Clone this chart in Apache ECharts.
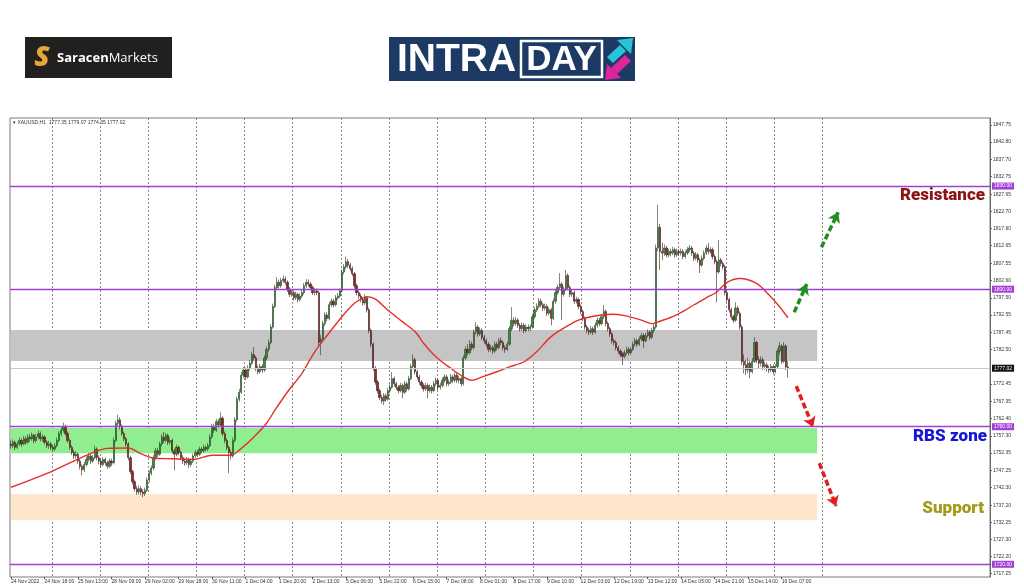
<!DOCTYPE html>
<html>
<head>
<meta charset="utf-8">
<script src="https://cdn.jsdelivr.net/npm/echarts@6/dist/echarts.min.js"></script>
<style>html,body{margin:0;padding:0;background:#fff;}#c{width:1024px;height:587px;}</style>
</head>
<body>
<div id="c"></div>
<script>
// ---- DATA ----
const timeLabels = ["24 Nov 2022","24 Nov 18:00","25 Nov 13:00","28 Nov 09:00","29 Nov 02:00","29 Nov 18:00","30 Nov 11:00","1 Dec 04:00","1 Dec 20:00","2 Dec 13:00","5 Dec 06:00","5 Dec 22:00","6 Dec 15:00","7 Dec 08:00","8 Dec 01:00","8 Dec 17:00","9 Dec 10:00","12 Dec 03:00","12 Dec 19:00","13 Dec 12:00","14 Dec 05:00","14 Dec 21:00","15 Dec 14:00","16 Dec 07:00"];
const priceTicks = [1847.75,1842.80,1837.70,1832.75,1827.65,1822.70,1817.60,1812.65,1807.55,1802.60,1797.50,1792.55,1787.45,1782.50,1772.45,1767.35,1762.40,1757.30,1752.35,1747.25,1742.30,1737.20,1732.25,1727.30,1722.20,1717.25];
// [open, close, low, high] per H1 bar
const candles = [
[1755.0,1754.5,1753.6,1756.0],[1754.5,1755.5,1753.8,1756.3],[1755.5,1754.0,1753.2,1756.0],[1754.0,1755.0,1753.5,1755.8],[1755.0,1756.0,1754.4,1757.0],
[1756.0,1755.0,1754.2,1756.6],[1755.0,1756.5,1754.6,1757.3],[1756.5,1755.5,1754.8,1757.2],[1755.5,1757.0,1755.0,1757.8],[1757.0,1756.5,1755.6,1757.9],
[1756.5,1757.5,1755.9,1758.3],[1757.5,1756.0,1755.2,1758.0],[1756.0,1757.0,1755.4,1757.9],[1757.0,1758.0,1756.3,1758.9],[1758.0,1756.5,1755.8,1758.6],
[1756.5,1757.0,1755.7,1757.8],[1757.0,1755.5,1754.8,1757.5],[1755.5,1754.5,1753.8,1756.1],[1754.5,1755.0,1753.6,1755.9],[1755.0,1754.0,1753.2,1755.6],
[1754.0,1753.5,1752.7,1754.8],[1753.5,1754.5,1752.9,1755.2],[1754.5,1756.0,1754.0,1756.8],[1756.0,1758.0,1755.5,1758.7],[1758.0,1759.0,1757.2,1760.0],
[1759.0,1760.0,1758.3,1761.2],[1760.0,1758.0,1757.4,1760.6],[1758.0,1756.0,1755.3,1758.6],[1756.0,1754.0,1753.3,1756.5],[1754.0,1752.5,1751.8,1754.6],
[1752.5,1751.5,1750.6,1753.3],[1751.5,1752.0,1750.7,1752.9],[1752.0,1750.0,1749.2,1752.6],[1750.0,1748.5,1747.6,1750.6],[1748.5,1747.5,1745.9,1749.0],
[1747.5,1749.0,1746.8,1749.8],[1749.0,1750.5,1748.4,1751.3],[1750.5,1751.5,1749.8,1752.3],[1751.5,1750.0,1749.2,1752.0],[1750.0,1751.0,1749.4,1751.8],
[1751.0,1753.5,1750.5,1754.5],[1753.5,1751.0,1750.2,1754.0],[1751.0,1750.0,1749.1,1751.7],[1750.0,1749.0,1748.2,1750.6],[1749.0,1750.5,1748.5,1751.2],
[1750.5,1749.5,1748.8,1751.0],[1749.5,1748.5,1747.8,1750.1],[1748.5,1750.0,1748.0,1750.8],[1750.0,1749.5,1748.6,1750.7],[1749.5,1756.0,1749.0,1756.8],
[1756.0,1761.0,1755.5,1761.8],[1761.0,1762.0,1760.2,1763.5],[1762.0,1760.0,1759.2,1762.8],[1760.0,1758.0,1757.3,1760.7],[1758.0,1756.5,1755.8,1758.6],
[1756.5,1755.0,1754.2,1757.0],[1755.0,1751.0,1750.2,1755.5],[1751.0,1747.0,1746.2,1751.6],[1747.0,1744.0,1743.2,1747.5],[1744.0,1742.0,1741.2,1744.6],
[1742.0,1741.0,1740.2,1742.8],[1741.0,1742.0,1740.3,1742.9],[1742.0,1741.0,1740.1,1742.7],[1741.0,1740.5,1739.5,1741.8],[1740.5,1741.5,1739.8,1742.3],
[1741.5,1744.5,1741.0,1745.2],[1744.5,1746.5,1743.8,1747.3],[1746.5,1748.0,1745.8,1748.8],[1748.0,1751.0,1747.4,1751.7],[1751.0,1753.0,1750.3,1753.8],
[1753.0,1752.0,1751.2,1753.9],[1752.0,1755.0,1751.5,1755.7],[1755.0,1757.0,1754.3,1757.8],[1757.0,1756.0,1755.2,1758.5],[1756.0,1757.5,1755.4,1758.2],
[1757.5,1755.5,1754.7,1758.0],[1755.5,1756.0,1754.8,1756.9],[1756.0,1753.0,1752.2,1756.6],[1753.0,1752.0,1747.3,1753.6],[1752.0,1754.0,1751.4,1754.8],
[1754.0,1752.5,1751.7,1754.5],[1752.5,1751.0,1750.3,1753.1],[1751.0,1750.0,1749.2,1751.7],[1750.0,1749.5,1748.7,1750.8],[1749.5,1750.5,1748.9,1751.2],
[1750.5,1749.0,1748.0,1751.0],[1749.0,1750.0,1748.4,1750.8],[1750.0,1751.5,1749.4,1752.2],[1751.5,1752.5,1750.9,1753.3],[1752.5,1752.0,1751.2,1753.2],
[1752.0,1753.5,1751.5,1754.2],[1753.5,1753.0,1752.3,1754.1],[1753.0,1754.0,1752.4,1754.8],[1754.0,1753.5,1752.8,1754.6],[1753.5,1754.5,1752.9,1755.3],
[1754.5,1757.0,1754.0,1757.8],[1757.0,1760.0,1756.5,1760.8],[1760.0,1759.0,1758.2,1760.9],[1759.0,1761.5,1758.5,1762.3],[1761.5,1760.5,1759.7,1762.2],
[1760.5,1762.5,1760.0,1764.2],[1762.5,1758.0,1757.2,1763.0],[1758.0,1756.0,1755.2,1758.6],[1756.0,1754.0,1753.2,1756.6],[1754.0,1752.5,1746.5,1754.5],
[1752.5,1751.5,1750.5,1753.3],[1751.5,1756.0,1751.0,1756.8],[1756.0,1762.0,1755.5,1762.8],[1762.0,1768.0,1761.5,1768.8],[1768.0,1770.0,1767.3,1771.0],
[1770.0,1775.0,1769.5,1775.9],[1775.0,1776.5,1774.2,1777.4],[1776.5,1774.5,1773.6,1777.2],[1774.5,1777.0,1774.0,1777.9],[1777.0,1778.5,1776.3,1779.4],
[1778.5,1781.0,1777.9,1781.8],[1781.0,1780.0,1779.2,1783.1],[1780.0,1777.0,1776.2,1780.6],[1777.0,1776.0,1775.2,1777.8],[1776.0,1777.5,1775.4,1778.3],
[1777.5,1776.5,1775.6,1778.2],[1776.5,1780.0,1776.0,1780.8],[1780.0,1782.5,1779.3,1783.3],[1782.5,1784.5,1781.8,1785.3],[1784.5,1789.0,1784.0,1789.8],
[1789.0,1795.0,1788.5,1795.8],[1795.0,1800.5,1794.5,1801.3],[1800.5,1802.0,1799.8,1803.5],[1802.0,1801.0,1800.2,1802.8],[1801.0,1802.5,1800.4,1803.3],
[1802.5,1803.0,1801.8,1804.0],[1803.0,1802.0,1801.2,1803.7],[1802.0,1800.0,1799.2,1802.6],[1800.0,1798.5,1797.7,1800.6],[1798.5,1799.0,1797.8,1799.9],
[1799.0,1797.5,1796.7,1799.6],[1797.5,1798.5,1796.9,1799.3],[1798.5,1797.0,1796.2,1799.0],[1797.0,1798.0,1796.4,1798.8],[1798.0,1799.0,1797.4,1799.8],
[1799.0,1801.0,1798.4,1801.8],[1801.0,1802.0,1800.3,1802.9],[1802.0,1801.5,1800.7,1802.8],[1801.5,1800.5,1799.7,1802.1],[1800.5,1799.0,1798.3,1801.1],
[1799.0,1799.5,1798.2,1800.3],[1799.5,1799.0,1798.2,1800.2],[1799.0,1784.5,1783.5,1799.6],[1784.5,1785.5,1780.8,1786.6],[1785.5,1790.0,1785.0,1790.8],
[1790.0,1792.5,1789.3,1793.3],[1792.5,1791.5,1790.7,1793.2],[1791.5,1795.5,1791.0,1796.3],[1795.5,1796.5,1794.8,1797.3],[1796.5,1795.5,1794.7,1797.2],
[1795.5,1797.5,1795.0,1798.3],[1797.5,1798.0,1796.8,1798.9],[1798.0,1799.5,1797.4,1800.3],[1799.5,1805.0,1799.0,1805.8],[1805.0,1806.5,1804.3,1807.3],
[1806.5,1808.0,1805.8,1809.5],[1808.0,1807.0,1806.2,1808.8],[1807.0,1806.0,1805.2,1807.7],[1806.0,1804.5,1803.8,1806.6],[1804.5,1801.0,1800.2,1805.0],
[1801.0,1799.0,1798.2,1801.6],[1799.0,1798.0,1797.2,1799.7],[1798.0,1797.0,1796.2,1798.7],[1797.0,1796.0,1795.2,1797.6],[1796.0,1797.5,1795.4,1798.5],
[1797.5,1794.0,1793.2,1798.0],[1794.0,1788.0,1787.2,1794.6],[1788.0,1784.0,1783.2,1788.6],[1784.0,1777.0,1776.2,1784.5],[1777.0,1773.0,1772.2,1777.6],
[1773.0,1770.5,1769.7,1773.6],[1770.5,1768.5,1767.7,1771.1],[1768.5,1767.5,1766.7,1769.2],[1767.5,1769.0,1766.3,1769.8],[1769.0,1768.0,1767.2,1769.7],
[1768.0,1770.5,1767.5,1771.3],[1770.5,1771.5,1769.8,1772.3],[1771.5,1774.0,1771.0,1775.9],[1774.0,1772.5,1771.7,1774.6],[1772.5,1771.5,1770.7,1773.1],
[1771.5,1770.5,1769.7,1772.1],[1770.5,1772.0,1770.0,1772.8],[1772.0,1770.0,1768.3,1772.6],[1770.0,1772.5,1769.5,1773.3],[1772.5,1771.0,1770.2,1773.1],
[1771.0,1774.0,1770.5,1774.8],[1774.0,1777.5,1773.5,1778.3],[1777.5,1779.5,1776.8,1781.0],[1779.5,1776.0,1775.2,1780.1],[1776.0,1774.5,1773.7,1776.6],
[1774.5,1773.0,1772.2,1775.1],[1773.0,1772.0,1771.2,1773.6],[1772.0,1771.0,1770.2,1772.6],[1771.0,1772.0,1770.4,1772.8],[1772.0,1770.5,1768.3,1772.6],
[1770.5,1771.5,1769.9,1772.3],[1771.5,1770.5,1769.7,1772.1],[1770.5,1772.5,1770.0,1773.3],[1772.5,1773.5,1771.8,1774.3],[1773.5,1771.5,1770.7,1774.1],
[1771.5,1772.0,1770.8,1772.8],[1772.0,1773.5,1771.4,1774.3],[1773.5,1774.5,1772.8,1775.3],[1774.5,1772.5,1771.7,1775.1],[1772.5,1773.0,1771.8,1773.8],
[1773.0,1774.5,1772.4,1775.3],[1774.5,1773.5,1772.7,1775.1],[1773.5,1775.0,1772.9,1775.8],[1775.0,1773.5,1772.7,1775.6],[1773.5,1774.0,1772.6,1774.8],
[1774.0,1772.5,1771.7,1774.6],[1772.5,1780.0,1772.0,1780.8],[1780.0,1782.5,1779.3,1783.3],[1782.5,1781.5,1780.7,1784.0],[1781.5,1784.0,1781.0,1785.2],
[1784.0,1783.0,1782.2,1784.8],[1783.0,1787.5,1782.5,1788.3],[1787.5,1789.0,1786.8,1790.4],[1789.0,1787.0,1786.2,1789.6],[1787.0,1788.0,1786.4,1788.9],
[1788.0,1786.0,1785.2,1788.6],[1786.0,1785.0,1784.2,1786.7],[1785.0,1784.0,1783.2,1785.7],[1784.0,1782.5,1781.7,1784.6],[1782.5,1783.0,1781.8,1783.8],
[1783.0,1782.0,1781.2,1783.7],[1782.0,1784.0,1781.5,1784.8],[1784.0,1783.0,1782.2,1784.7],[1783.0,1785.0,1782.5,1785.8],[1785.0,1784.5,1783.7,1786.0],
[1784.5,1783.0,1782.2,1785.1],[1783.0,1782.5,1781.5,1783.7],[1782.5,1784.0,1782.0,1784.8],[1784.0,1788.5,1783.5,1789.3],[1788.5,1791.0,1787.8,1794.8],
[1791.0,1790.0,1789.2,1791.8],[1790.0,1791.0,1789.3,1791.9],[1791.0,1789.5,1788.7,1791.6],[1789.5,1788.5,1787.7,1790.1],[1788.5,1789.5,1787.9,1790.3],
[1789.5,1788.0,1787.2,1790.1],[1788.0,1789.0,1787.4,1789.8],[1789.0,1788.5,1787.7,1789.7],[1788.5,1789.0,1787.8,1789.8],[1789.0,1792.0,1788.5,1792.8],
[1792.0,1794.0,1791.3,1794.8],[1794.0,1795.0,1793.3,1795.9],[1795.0,1796.5,1794.4,1797.5],[1796.5,1795.5,1794.7,1797.2],[1795.5,1794.5,1793.7,1796.1],
[1794.5,1795.0,1793.8,1795.8],[1795.0,1793.0,1792.2,1795.6],[1793.0,1794.0,1792.4,1794.8],[1794.0,1791.5,1789.5,1794.6],[1791.5,1796.5,1791.0,1797.3],
[1796.5,1799.0,1795.8,1799.8],[1799.0,1800.5,1798.3,1801.3],[1800.5,1801.5,1799.8,1804.7],[1801.5,1798.5,1791.0,1802.1],[1798.5,1800.0,1797.8,1800.8],
[1800.0,1804.0,1799.5,1805.6],[1804.0,1800.5,1799.7,1804.6],[1800.5,1798.5,1797.7,1801.1],[1798.5,1799.0,1797.8,1799.8],[1799.0,1796.5,1795.7,1799.6],
[1796.5,1797.0,1795.8,1797.8],[1797.0,1795.0,1794.2,1797.6],[1795.0,1793.5,1792.7,1795.6],[1793.5,1791.5,1790.7,1794.1],[1791.5,1789.0,1788.2,1792.1],
[1789.0,1788.0,1787.2,1789.6],[1788.0,1787.5,1786.7,1788.7],[1787.5,1788.5,1786.9,1789.3],[1788.5,1787.5,1786.7,1789.1],[1787.5,1789.5,1787.0,1790.3],
[1789.5,1791.0,1788.8,1791.8],[1791.0,1790.0,1789.2,1791.7],[1790.0,1792.0,1789.4,1792.8],[1792.0,1793.5,1791.3,1795.4],[1793.5,1790.0,1789.2,1794.1],
[1790.0,1788.5,1787.7,1790.6],[1788.5,1787.0,1786.2,1789.1],[1787.0,1785.0,1784.2,1787.6],[1785.0,1784.5,1783.7,1785.7],[1784.5,1783.0,1782.2,1785.1],
[1783.0,1782.0,1781.2,1783.6],[1782.0,1781.0,1780.2,1782.6],[1781.0,1780.5,1777.9,1781.7],[1780.5,1781.5,1779.9,1782.3],[1781.5,1782.5,1780.9,1783.3],
[1782.5,1781.5,1780.7,1783.1],[1781.5,1782.5,1780.9,1783.3],[1782.5,1784.0,1782.0,1784.8],[1784.0,1785.0,1783.4,1785.8],[1785.0,1784.0,1783.2,1785.6],
[1784.0,1785.5,1783.5,1786.3],[1785.5,1786.5,1784.9,1787.3],[1786.5,1785.0,1782.9,1787.1],[1785.0,1786.5,1784.5,1787.3],[1786.5,1787.5,1785.9,1788.3],
[1787.5,1786.0,1785.2,1788.1],[1786.0,1788.0,1785.5,1788.8],[1788.0,1789.0,1787.3,1789.8],[1789.0,1812.0,1788.5,1813.0],[1812.0,1818.0,1811.0,1824.5],
[1818.0,1811.0,1805.6,1819.0],[1811.0,1810.5,1808.5,1813.5],[1810.5,1812.0,1809.7,1813.0],[1812.0,1810.0,1809.2,1812.6],[1810.0,1811.0,1809.3,1811.8],
[1811.0,1810.5,1809.6,1811.8],[1810.5,1811.5,1809.9,1812.3],[1811.5,1810.0,1809.2,1812.1],[1810.0,1811.0,1809.4,1811.8],[1811.0,1810.5,1809.7,1811.7],
[1810.5,1811.0,1809.8,1811.8],[1811.0,1809.5,1808.7,1811.6],[1809.5,1810.5,1808.9,1811.3],[1810.5,1811.5,1809.9,1812.3],[1811.5,1812.0,1810.8,1812.9],
[1812.0,1810.5,1809.7,1812.6],[1810.5,1809.0,1808.2,1811.1],[1809.0,1810.0,1808.4,1810.8],[1810.0,1808.5,1807.7,1810.6],[1808.5,1807.0,1804.7,1809.1],
[1807.0,1809.0,1806.5,1809.8],[1809.0,1810.5,1808.4,1811.3],[1810.5,1812.0,1809.9,1812.8],[1812.0,1811.0,1810.2,1813.4],[1811.0,1811.5,1810.3,1812.3],
[1811.5,1809.5,1808.7,1812.1],[1809.5,1808.0,1807.2,1810.1],[1808.0,1805.0,1796.2,1808.6],[1805.0,1808.5,1804.5,1814.3],[1808.5,1807.5,1806.7,1809.1],
[1807.5,1806.5,1805.7,1808.1],[1806.5,1799.0,1798.2,1807.1],[1799.0,1797.0,1796.2,1799.6],[1797.0,1794.0,1793.2,1797.6],[1794.0,1792.0,1791.2,1794.6],
[1792.0,1791.0,1790.2,1792.6],[1791.0,1794.5,1790.5,1796.2],[1794.5,1793.0,1792.2,1795.1],[1793.0,1789.0,1788.2,1793.6],[1789.0,1779.0,1778.0,1789.6],
[1779.0,1778.0,1775.5,1781.0],[1778.0,1776.5,1775.0,1779.5],[1776.5,1778.5,1775.5,1780.0],[1778.5,1776.0,1774.1,1779.2],[1776.0,1779.0,1775.5,1780.0],
[1779.0,1784.5,1778.5,1786.1],[1784.5,1779.5,1778.5,1785.0],[1779.5,1778.5,1777.0,1780.5],[1778.5,1779.5,1777.5,1780.5],[1779.5,1777.5,1776.5,1780.2],
[1777.5,1778.0,1776.6,1778.9],[1778.0,1777.0,1776.0,1778.7],[1777.0,1776.5,1775.6,1777.8],[1776.5,1777.5,1775.8,1778.3],[1777.5,1776.0,1775.2,1778.1],
[1776.0,1777.5,1775.5,1778.3],[1777.5,1782.0,1777.0,1782.8],[1782.0,1783.5,1781.0,1784.6],[1783.5,1779.0,1778.2,1784.0],[1779.0,1783.5,1778.5,1784.6],
[1783.5,1777.35,1776.5,1784.0],[1777.35,1777.02,1774.35,1779.07]
];
// moving average: [bar index, value]
const maPoints = [[0,1742.4],[19,1746.9],[31,1750.3],[40,1752.7],[46,1753.7],[56,1753.8],[62,1752.2],[68,1750.9],[77,1750.7],[87,1750.5],[96,1751.7],[105,1751.7],[109,1753.2],[116,1757.0],[122,1761.0],[126,1764.8],[132,1770.1],[139,1775.6],[145,1781.8],[151,1786.6],[158,1792.0],[164,1795.9],[168,1797.4],[170,1797.8],[174,1797.1],[180,1793.9],[187,1790.5],[193,1787.6],[197,1784.3],[203,1780.3],[210,1777.0],[216,1774.5],[220,1773.5],[225,1774.5],[232,1776.0],[238,1777.4],[245,1778.9],[251,1781.8],[257,1785.7],[261,1787.6],[268,1790.1],[271,1791.0],[277,1792.0],[287,1792.7],[293,1792.3],[301,1791.0],[306,1790.0],[309,1790.5],[316,1792.0],[322,1793.9],[326,1795.4],[332,1797.5],[337,1799.2],[342,1802.0],[348,1803.1],[356,1801.7],[362,1798.3],[367,1794.9],[371,1791.7]];
const levels = [1830, 1800, 1760, 1720];
const lastPrice = 1777.02;
const zoneGray = [1779.1, 1788.1];
const zoneGreen = [1752.3, 1759.6];
const zoneSupport = [1732.8, 1740.4];
const zoneEndBar = 385;
// scenario arrows: [startBar, startPrice, endBar, endPrice]
const arrowsUp = [[387,1812.2,395,1822.4],[374,1793.3,380,1801.5]];
const arrowsDown = [[375,1771.8,383,1759.9],[386,1749.4,394,1736.9]];

// ---- CHART ----
const nSlots = 468;
const slots = Array.from({length:nSlots},(_,i)=>String(i));
const labelEvery = 16;
const gridFirst = 20, gridEvery = 23, gridLast = 388;
const isLabel = (i)=> i % labelEvery === 0 && i/labelEvery < timeLabels.length;
const isGrid = (i)=> i >= gridFirst && i <= gridLast && (i-gridFirst) % gridEvery === 0;

const chart = echarts.init(document.getElementById('c'), null, {renderer:'canvas'});
const FONT = '"Liberation Sans", Arial, sans-serif';
const purple = '#a23fd6';
const BIG = '900 17px Roboto, "Liberation Sans", sans-serif';

function arrowLines(list, color){
  return list.map(a => [
    {coord:[a[0], a[1]], lineStyle:{color, width:3.5, type:[6,3]}},
    {coord:[a[2], a[3]]}
  ]);
}

const option = {
  animation:false,
  backgroundColor:'#ffffff',
  grid:{left:10, right:34, top:118, bottom:10, show:true, borderColor:'#7a7a7a', borderWidth:1, backgroundColor:'#fff', outerBoundsMode:'none'},
  xAxis:{
    type:'category', data:slots, boundaryGap:true,
    axisLine:{show:false},
    axisTick:{show:true, interval:isLabel, alignWithLabel:true, length:2, lineStyle:{color:'#555'}},
    axisLabel:{interval:isLabel, formatter:(v,i)=>timeLabels[i/labelEvery], align:'left', fontSize:5, color:'#333', margin:2, fontFamily:FONT},
    splitLine:{show:true, interval:isGrid, lineStyle:{color:'#6a6a6a', width:0.8, type:[2,2]}}
  },
  yAxis:{
    type:'value', position:'right', min:1716.3, max:1849.79, scale:true,
    axisLine:{show:true, lineStyle:{color:'#666'}},
    axisTick:{show:true, length:2, customValues:priceTicks, lineStyle:{color:'#666'}},
    axisLabel:{show:true, customValues:priceTicks, formatter:(v)=>Number(v).toFixed(2), fontSize:5, color:'#333', margin:3, fontFamily:FONT},
    splitLine:{show:false}
  },
  series:[
    {
      type:'line', data:[], z:1, silent:true,
      markArea:{silent:true, label:{show:false}, data:[
        [{xAxis:0, yAxis:zoneGray[1], itemStyle:{color:'#c5c5c5'}}, {xAxis:zoneEndBar, yAxis:zoneGray[0]}],
        [{xAxis:0, yAxis:zoneGreen[1], itemStyle:{color:'#90ee90'}}, {xAxis:zoneEndBar, yAxis:zoneGreen[0]}],
        [{xAxis:0, yAxis:zoneSupport[1], itemStyle:{color:'#fde6c9'}}, {xAxis:zoneEndBar, yAxis:zoneSupport[0]}]
      ]}
    },
    {
      type:'line', data:[], z:2, silent:true,
      markLine:{silent:true, symbol:['none','none'], animation:false,
        lineStyle:{color:'#c9c9c9', width:1, type:'solid'},
        label:{show:true, position:'end', distance:2, formatter:lastPrice.toFixed(2), backgroundColor:'#111', color:'#fff', fontSize:5, padding:[1,2], fontFamily:FONT},
        data:[{yAxis:lastPrice}]}
    },
    {
      type:'candlestick', z:3, data:candles, barWidth:1.7,
      itemStyle:{color:'#3d8b3d', color0:'#8a2b2b', borderColor:'#1f3f1f', borderColor0:'#3d1616', borderWidth:0.6}
    },
    {
      type:'line', z:4, data:maPoints, smooth:0.3, showSymbol:false, silent:true,
      lineStyle:{color:'#e3302c', width:1.4}
    },
    {
      type:'line', data:[], z:5, silent:true,
      markLine:{silent:true, symbol:['none','none'], animation:false,
        lineStyle:{color:purple, width:1.3, type:'solid'},
        label:{show:true, position:'end', distance:2, formatter:(p)=>Number(p.value).toFixed(2), backgroundColor:purple, color:'#fff', fontSize:5, padding:[1,2], fontFamily:FONT},
        data:levels.map(v=>({yAxis:v}))}
    },
    {
      type:'line', data:[], z:6, silent:true,
      markLine:{silent:true, symbol:['none','arrow'], symbolSize:[10,10], animation:false, label:{show:false},
        data: arrowLines(arrowsUp, '#1f8f22').concat(arrowLines(arrowsDown, '#e31c1c'))}
    }
  ],
  graphic:[
    {type:'text', x:13, y:120, z:10, style:{text:'\u25BE XAUUSD,H1  1777.35 1779.07 1774.35 1777.02', fontSize:5, fontFamily:FONT, fill:'#333'}},
    {type:'text', x:985, y:196, z:10, style:{text:'Resistance', font:BIG, fill:'#8c1414', align:'right', verticalAlign:'middle'}},
    {type:'text', x:987, y:437, z:10, style:{text:'RBS zone', font:BIG, fill:'#1717d4', align:'right', verticalAlign:'middle'}},
    {type:'text', x:984, y:509, z:10, style:{text:'Support', font:BIG, fill:'#a39a1a', align:'right', verticalAlign:'middle'}},
    // Saracen Markets logo
    {type:'rect', shape:{x:25, y:37, width:147, height:41}, style:{fill:'#221f1f'}},
    {type:'text', x:42, y:58, style:{text:'S', font:'italic 900 28px "Noto Sans", sans-serif', align:'center', verticalAlign:'middle', fill:'#e3a838'}},
    {type:'text', x:57, y:58, style:{text:'{b|Saracen}{r|Markets}', verticalAlign:'middle',
      rich:{b:{fontSize:13, fontWeight:'bold', fontFamily:'"Open Sans", sans-serif', fill:'#fff'}, r:{fontSize:13, fontFamily:'"Open Sans", sans-serif', fill:'#fff'}}}},
    // INTRADAY logo
    {type:'rect', shape:{x:389, y:37, width:246, height:44}, style:{fill:'#1d3a64'}},
    {type:'text', x:397, y:60, style:{text:'INTRA', font:'bold 39px "Liberation Sans", Arial, sans-serif', fill:'#fff', verticalAlign:'middle'}},
    {type:'rect', shape:{x:521, y:41, width:81, height:36}, style:{fill:'none', stroke:'#fff', lineWidth:2.5}},
    {type:'text', x:561.5, y:60, style:{text:'DAY', font:'bold 35px "Liberation Sans", Arial, sans-serif', fill:'#fff', align:'center', verticalAlign:'middle'}},
    {type:'polygon', shape:{points:[[633,38],[617,40],[631,54]]}, style:{fill:'#27c3d6'}},
    {type:'polygon', shape:{points:[[620,45],[626,51],[613,63],[607,57]]}, style:{fill:'#27c3d6'}},
    {type:'polygon', shape:{points:[[605,80],[607,64],[621,78]]}, style:{fill:'#e0249a'}},
    {type:'polygon', shape:{points:[[611,68],[617,74],[631,61],[625,55]]}, style:{fill:'#e0249a'}}
  ]
};
chart.setOption(option);
</script>
</body>
</html>
